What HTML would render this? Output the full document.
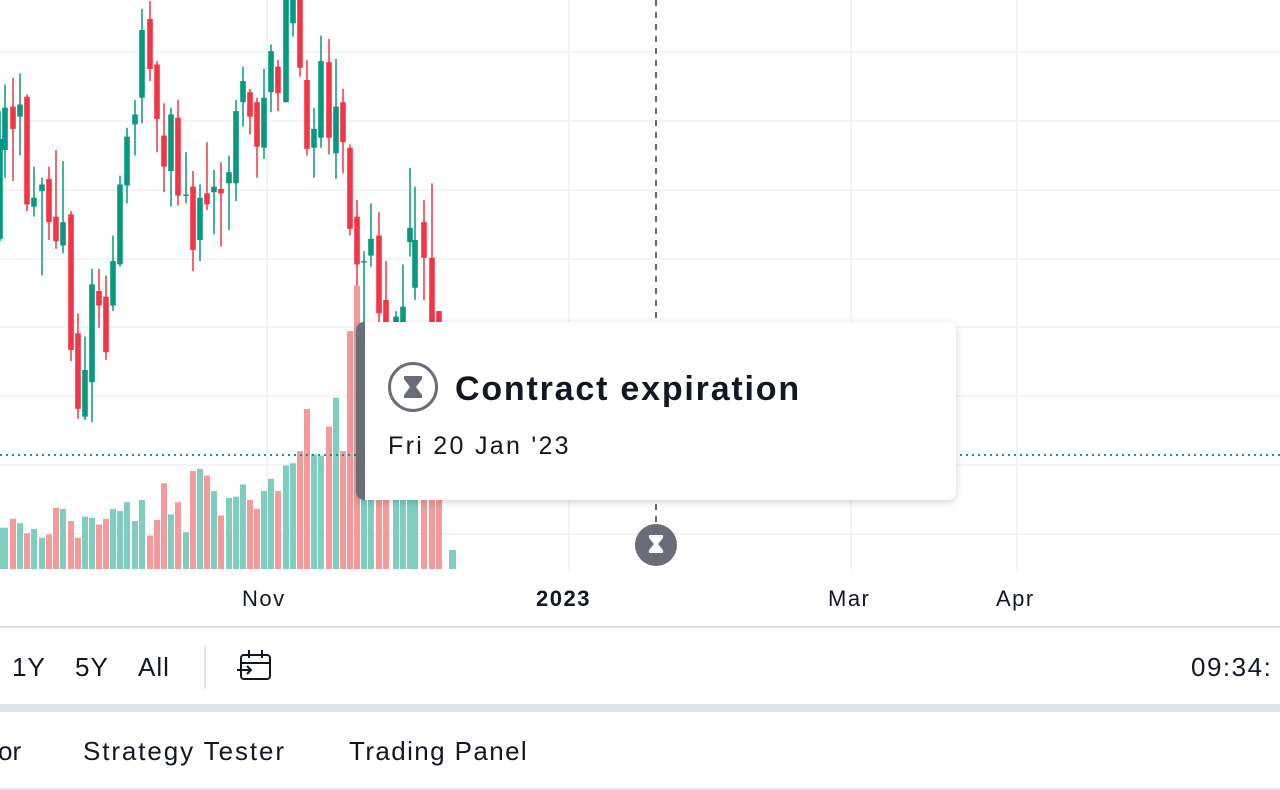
<!DOCTYPE html>
<html><head><meta charset="utf-8">
<style>
html,body{margin:0;padding:0;width:1280px;height:790px;overflow:hidden;background:#fff;font-family:"Liberation Sans",sans-serif;color:#131722}
.t{position:absolute;white-space:nowrap}
</style></head><body>
<svg id="s" width="1280" height="790" style="position:absolute;left:0;top:0">
</svg>
<div class="t" style="left:242px;top:586px;font-size:22px;letter-spacing:1.5px">Nov</div>
<div class="t" style="left:536px;top:586px;font-size:22px;font-weight:bold;letter-spacing:1.5px">2023</div>
<div class="t" style="left:828px;top:586px;font-size:22px;letter-spacing:1.5px">Mar</div>
<div class="t" style="left:996px;top:586px;font-size:22px;letter-spacing:1.5px">Apr</div>
<div class="t" style="left:12px;top:652px;font-size:26px;letter-spacing:1px">1Y</div>
<div class="t" style="left:75px;top:652px;font-size:26px;letter-spacing:1px">5Y</div>
<div class="t" style="left:138px;top:652px;font-size:26px;letter-spacing:1px">All</div>
<div class="t" style="left:1191px;top:652px;font-size:26px;letter-spacing:1.5px">09:34:</div>
<div class="t" style="left:-2px;top:736px;font-size:26px">or</div>
<div class="t" style="left:83px;top:736px;font-size:26px;letter-spacing:1.9px">Strategy Tester</div>
<div class="t" style="left:349px;top:736px;font-size:26px;letter-spacing:1.4px">Trading Panel</div>
<div style="position:absolute;left:356px;top:322px;width:600px;height:178px;background:#fff;border-radius:8px;box-shadow:0 2px 8px rgba(0,0,0,0.18);overflow:hidden">
  <div style="position:absolute;left:0;top:0;width:9px;height:178px;background:#6a6d78"></div>
  <svg style="position:absolute;left:31px;top:40px" width="52" height="52">
    <circle cx="26" cy="25" r="23.5" fill="none" stroke="#6a6d78" stroke-width="3"/>
    <path d="M17 14h18v3l-6 8 6 8v3H17v-3l6-8-6-8z" fill="#6a6d78"/>
  </svg>
  <div class="t" style="left:99px;top:48px;font-size:34px;font-weight:bold;letter-spacing:1.8px">Contract expiration</div>
  <div class="t" style="left:32px;top:110px;font-size:25px;letter-spacing:2.3px">Fri 20 Jan '23</div>
</div>
<script>
var s=document.getElementById('s'),h='';
[52,121,190,259,327,396,465,534].forEach(function(y){h+='<line x1="0" x2="1280" y1="'+y+'" y2="'+y+'" stroke="#f0f1f3" stroke-width="1.5"/>';});
[267,569,851,1017].forEach(function(x){h+='<line x1="'+x+'" x2="'+x+'" y1="0" y2="570" stroke="#f0f1f3" stroke-width="1.5"/>';});
var G='#089981',R='#f23645';
var c=[[0,'g',125,215,100,217],[5,'g',97,135,76,160],[13,'r',96,116,70,163],[20,'g',94,105,66,140],[27,'r',87,184,85,190],[34,'g',178,186,150,195],[42,'g',166,172,160,248],[49,'r',161,200,150,216],[56,'r',195,217,135,224],[63,'g',200,221,145,228],[71,'r',193,315,190,325],[78,'r',300,368,282,377],[85,'g',333,375,303,378],[92,'g',256,344,242,380],[99,'r',262,275,242,295],[106,'r',267,317,248,324],[113,'g',235,275,212,280],[120,'g',166,238,158,240],[127,'g',123,167,115,183],[135,'g',103,112,90,140],[142,'g',27,88,8,111],[150,'r',17,62,1,73],[157,'r',58,107,55,137],[164,'r',122,150,93,173],[171,'g',103,154,97,186],[178,'r',106,176,90,185],[186,'g',175,176,137,183],[193,'r',168,225,154,244],[200,'g',178,216,166,235],[207,'r',174,184,128,189],[214,'g',168,173,153,211],[221,'r',170,174,146,222],[229,'g',155,165,140,207],[236,'g',100,165,90,181],[243,'g',73,92,60,114],[250,'r',83,105,80,121],[257,'r',92,132,88,160],[264,'g',88,133,62,143],[271,'g',46,83,40,101],[278,'r',60,84,54,100],[286,'g',0,92,0,92],[293,'g',0,21,0,33],[300,'r',0,61,0,69],[307,'r',72,134,54,140],[314,'g',116,133,97,160],[321,'g',55,124,32,133],[329,'r',56,124,35,139],[336,'g',96,138,53,161],[343,'r',92,128,80,156],[350,'r',133,206,130,212],[357,'r',195,238,180,300],[364,'g',235,236,226,295],[371,'g',215,230,183,240],[379,'r',212,282,191,300],[386,'r',270,300,235,300],[396,'g',285,300,280,300],[403,'g',276,300,238,300],[410,'g',205,218,151,231],[415,'g',216,259,168,270],[424,'r',200,232,180,270],[432,'r',232,300,165,300],[439,'r',280,300,280,300]];
var k=1.111;
c.forEach(function(d){var col=d[1]=='g'?G:R;var x=d[0];
h+='<rect x="'+(x-0.75)+'" y="'+d[4]*k+'" width="1.5" height="'+(d[5]-d[4])*k+'" fill="'+col+'"/>';
h+='<rect x="'+(x-2.8)+'" y="'+d[2]*k+'" width="5.6" height="'+Math.max(1.5,(d[3]-d[2])*k)+'" fill="'+col+'"/>';});
var v=[475,475,467,471,480,476,484,481,457,458,469,484,465,466,472,467,458,460,452,469,450,482,468,435,463,452,479,424,422,428,442,464,448,447,436,450,458,442,431,442,419,417,406,368,409,410,384,358,406,298,257,300,300,300,300,300,300,300,300,300,300,300,300];
for(var i=0;i<c.length&&i<v.length;i++){var col=c[i][1]=='g'?'#7fcdbf':'#f49a9a';
h+='<rect x="'+(c[i][0]-3)+'" y="'+v[i]*k+'" width="6" height="'+(569-v[i]*k)+'" fill="'+col+'"/>';}
h+='<rect x="449" y="550" width="7" height="19" fill="#7fcdbf"/>';
h+='<line x1="0" x2="1280" y1="455" y2="455" stroke="#089981" stroke-width="2" stroke-dasharray="2,4"/>';
h+='<line x1="656" x2="656" y1="0" y2="524" stroke="#6a6d78" stroke-width="2" stroke-dasharray="6,6"/>';
h+='<circle cx="656" cy="545" r="21" fill="#6a6d78"/><path d="M649 535h14v3l-5 6 5 6v3h-14v-3l5-6-5-6z" fill="#fff"/>';
h+='<line x1="0" x2="1280" y1="627" y2="627" stroke="#e0e3eb" stroke-width="2"/>';
h+='<line x1="205" x2="205" y1="645" y2="689" stroke="#e0e3eb" stroke-width="2"/>';
h+='<g fill="none" stroke="#131722" stroke-width="2"><rect x="241" y="655" width="29" height="24" rx="3"/><line x1="241" y1="663" x2="270" y2="663"/><line x1="249" y1="650" x2="249" y2="658"/><line x1="262" y1="650" x2="262" y2="658"/><path d="M237 670h14m-4-4l4 4-4 4"/></g>';
h+='<rect x="0" y="704" width="1280" height="8" fill="#e0e3eb"/>';
h+='<line x1="0" x2="1280" y1="789" y2="789" stroke="#e0e3eb" stroke-width="2"/>';
s.innerHTML=h;
</script>
</body></html>
